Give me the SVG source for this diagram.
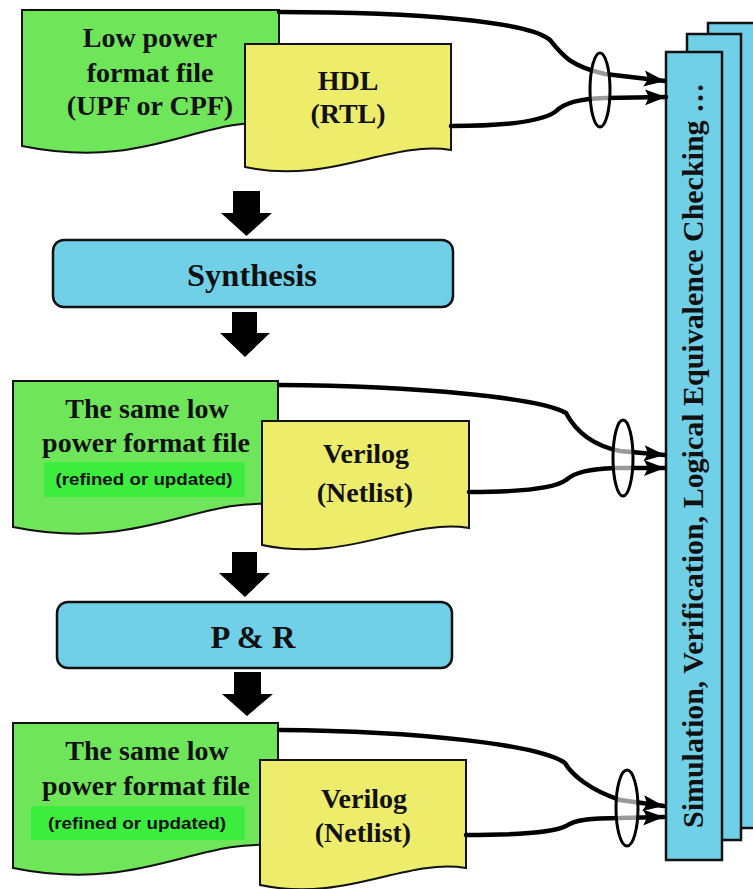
<svg xmlns="http://www.w3.org/2000/svg" width="753" height="889" viewBox="0 0 753 889">
<defs>
<style>
.dg{fill:#6fe65a;stroke:#111;stroke-width:2}
.dy{fill:#eded6b;stroke:#111;stroke-width:2}
.proc{fill:#70d0e8;stroke:#111;stroke-width:2.5}
.panel{fill:#70d0e8;stroke:#111;stroke-width:2.5}
.t{font-family:"Liberation Serif","Times New Roman",serif;font-weight:bold;fill:#111;text-anchor:middle}
.dt{font-size:28px}
.pt{font-size:32px}
.note{font-family:"Liberation Sans",Arial,sans-serif;font-weight:bold;font-size:16px;fill:#111;text-anchor:middle}
.hl{fill:#3ded3d}
.conn{fill:none;stroke:#000;stroke-width:4.5;stroke-linecap:round}
.lens{fill:#fff;fill-opacity:0.6;stroke:#000;stroke-width:3}
.big{fill:#000}
</style>
<marker id="ah" markerUnits="userSpaceOnUse" markerWidth="22" markerHeight="20" refX="21" refY="10" orient="auto"><path d="M0,2 L21,10 L0,18 L4,10 Z" fill="#000"/></marker>
</defs>

<g id="panels">
<rect class="panel" x="708" y="23" width="60" height="805"/>
<rect class="panel" x="687" y="34" width="54" height="806"/>
<rect class="panel" x="666" y="52" width="56" height="808"/>
<text class="t" font-size="29" textLength="745" lengthAdjust="spacingAndGlyphs" transform="translate(703,828) rotate(-90)" x="0" y="0" style="text-anchor:start">Simulation, Verification, Logical Equivalence Checking …</text>
</g>

<g id="lowpower1">
<path class="dg" d="M22,10 H279 V124 C200,114 150,172 22,146 Z"/>
<text class="t dt" x="150" y="47">Low power</text>
<text class="t dt" x="150" y="82">format file</text>
<text class="t dt" x="150" y="115">(UPF or CPF)</text>
</g>
<g id="hdl">
<path class="dy" d="M245,44 H451 V150 C390,140 330,185 245,167 Z"/>
<text class="t dt" x="348" y="90">HDL</text>
<text class="t dt" x="348" y="123">(RTL)</text>
</g>

<g id="synthesis">
<rect class="proc" x="53" y="240" width="400" height="67" rx="11"/>
<text class="t pt" x="252" y="286" textLength="130" lengthAdjust="spacingAndGlyphs">Synthesis</text>
</g>

<g id="lowpower2">
<path class="dg" d="M13,381 H278 V505 C199,495 141,553 13,527 Z"/>
<text class="t dt" x="147" y="418">The same low</text>
<text class="t dt" x="146" y="452">power format file</text>
<rect class="hl" x="44" y="462" width="201" height="35"/>
<text class="note" x="144" y="485" textLength="177" lengthAdjust="spacingAndGlyphs">(refined or updated)</text>
</g>
<g id="netlist1">
<path class="dy" d="M262,421 H469 V528 C408,518 348,563 262,545 Z"/>
<text class="t dt" x="366" y="463">Verilog</text>
<text class="t dt" x="365" y="502">(Netlist)</text>
</g>

<g id="pnr">
<rect class="proc" x="57" y="602" width="395" height="66" rx="11"/>
<text class="t pt" x="253" y="648" textLength="85" lengthAdjust="spacingAndGlyphs">P &amp; R</text>
</g>

<g id="lowpower3">
<path class="dg" d="M13,723 H278 V846 C199,836 141,894 13,868 Z"/>
<text class="t dt" x="147" y="760">The same low</text>
<text class="t dt" x="146" y="795">power format file</text>
<rect class="hl" x="31" y="806" width="214" height="34"/>
<text class="note" x="137" y="829" textLength="178" lengthAdjust="spacingAndGlyphs">(refined or updated)</text>
</g>
<g id="netlist2">
<path class="dy" d="M260,760 H466 V868 C405,858 345,903 260,885 Z"/>
<text class="t dt" x="364" y="808">Verilog</text>
<text class="t dt" x="363" y="842">(Netlist)</text>
</g>

<g id="connectors">
<polygon class="big" points="233,191 260,191 260,213 272,213 246.5,236 221,213 233,213"/>
<polygon class="big" points="232,312 257,312 257,333 270,333 245,357 220,333 232,333"/>
<polygon class="big" points="232,552 257,552 257,573 270,573 245,597 219,573 232,573"/>
<polygon class="big" points="234,672 261,672 261,694 273,694 247,716 222,694 234,694"/>

<path class="conn" marker-end="url(#ah)" d="M279,12 C420,12 530,22 550,40 C562,55 570,66 605,74 L665,81"/>
<path class="conn" marker-end="url(#ah)" d="M451,126 C500,126 540,122 555,112 C565,102 580,99 605,98 L666,97"/>
<ellipse class="lens" cx="600" cy="90" rx="10" ry="37"/>

<path class="conn" marker-end="url(#ah)" d="M279,385 C420,386 540,398 566,413 C575,430 590,445 620,451 L665,455"/>
<path class="conn" marker-end="url(#ah)" d="M469,492 C520,492 555,488 566,480 C575,472 590,469 615,468 L665,468"/>
<ellipse class="lens" cx="623" cy="458" rx="10" ry="38"/>

<path class="conn" marker-end="url(#ah)" d="M279,730 C420,731 540,745 565,763 C572,775 590,790 620,800 L664,806"/>
<path class="conn" marker-end="url(#ah)" d="M466,835 C520,835 555,832 566,826 C575,820 590,818 620,818 L664,817"/>
<ellipse class="lens" cx="627" cy="808" rx="11" ry="38"/>
</g>
</svg>
